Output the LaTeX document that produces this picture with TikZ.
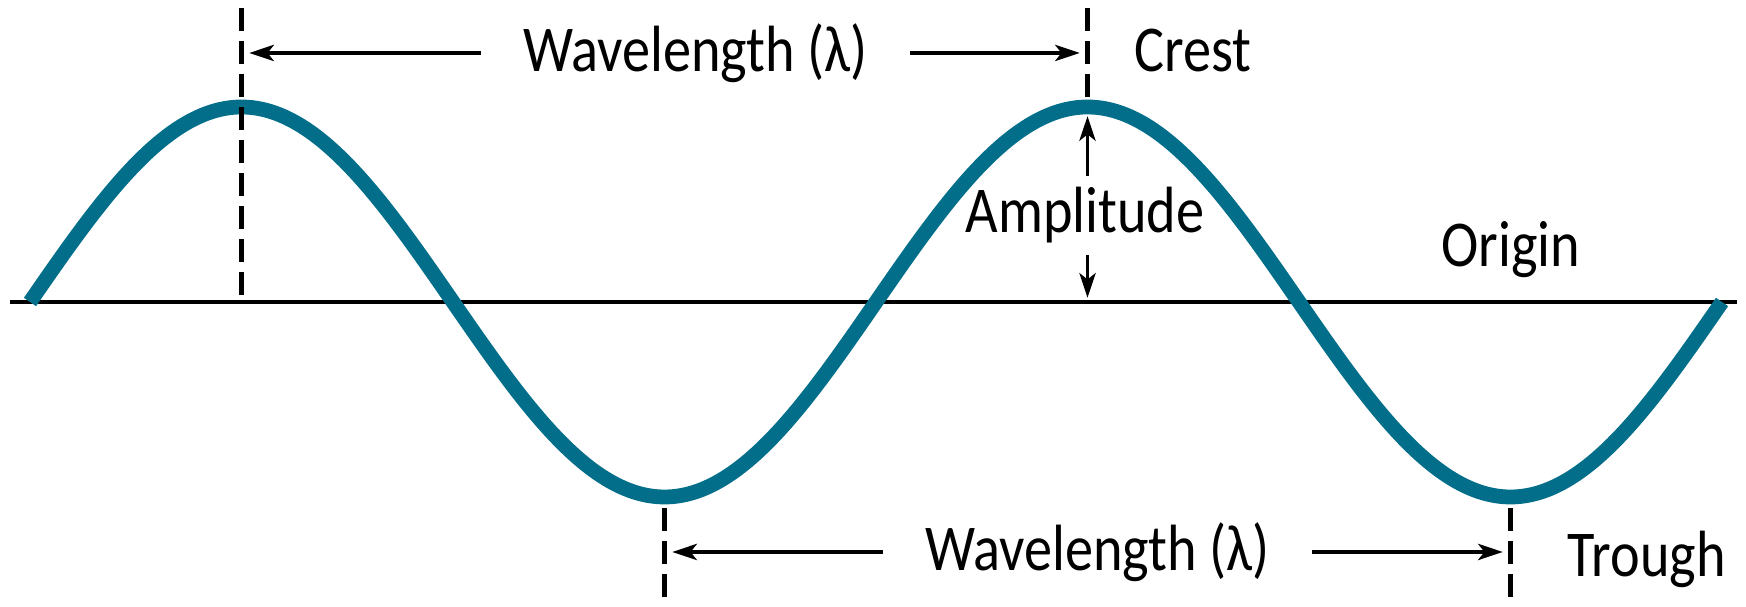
\documentclass[tikz,border=0pt]{standalone}
\usepackage{fontspec}
\setmainfont{Carlito}[FakeStretch=0.86]
\usetikzlibrary{arrows.meta,positioning}
\definecolor{wave}{RGB}{2,110,138}

\begin{document}
\begin{tikzpicture}[x=0.01cm,y=0.01cm,
      every node/.style={font=\fontsize{18.6}{22}\selectfont},
      guide/.style={line width=1.4pt,dash pattern=on 6.5pt off 2.9pt},
      dim/.style={line width=1.05pt,-{Stealth[length=7pt,width=4.6pt,inset=1.8pt]},shorten >=2.2pt},
      tag/.style={inner xsep=0.42cm,inner ysep=0pt}]
    \useasboundingbox (0,0) rectangle (1746,607);
    % origin line
    \coordinate (o1) at (10,305);
    \coordinate (o2) at (1737,305);
    \draw[line width=1.2pt] (o1) -- (o2);
    % crests and troughs
    \coordinate (c1) at (241.5,500);
    \coordinate (t1) at (664.5,110);
    \coordinate (c2) at (1087.5,500);
    \coordinate (t2) at (1510.5,110);
    \draw[wave,line width=4.2pt] (30,305) sin (c1) cos (453,305) sin (t1)
      cos (876,305) sin (c2) cos (1299,305) sin (t2) cos (1722,305);
    % guide lines
    \draw[guide] (241.5,599) -- (c1 |- 0,312);
    \draw[guide] (1087.5,599) -- (c2);
    \foreach \t in {t1,t2}
      \draw[guide] ([yshift=-0.11cm]\t) -- (\t |- 0,0);
    % labels
    \node[tag] (wl1) at (695.5,554) {Wavelength (λ)};
    \node[tag] (wl2) at (1097.5,55) {Wavelength (λ)};
    \node[anchor=base west,inner sep=0pt] (crest) at (1134,535) {Crest};
    \node[anchor=base west,inner sep=0pt] (trough) at (1567,30) {Trough};
    \node[anchor=base,inner xsep=0pt,inner ysep=0.11cm] (amp) at (1085,374) {Amplitude};
    \node[anchor=base] (origin) at (1511,340) {Origin};
    % arrows
    \draw[dim] (wl1.west) -- (wl1.west -| c1);
    \draw[dim] (wl1.east) -- (wl1.east -| c2);
    \draw[dim] (wl2.west) -- (wl2.west -| t1);
    \draw[dim] (wl2.east) -- (wl2.east -| t2);
    \draw[dim,shorten >=2.6pt] (amp.north -| c2) -- (c2);
    \draw[dim,shorten >=1.2pt] (amp.south -| c2) -- (c2 |- o1);
  \end{tikzpicture}
\end{document}
